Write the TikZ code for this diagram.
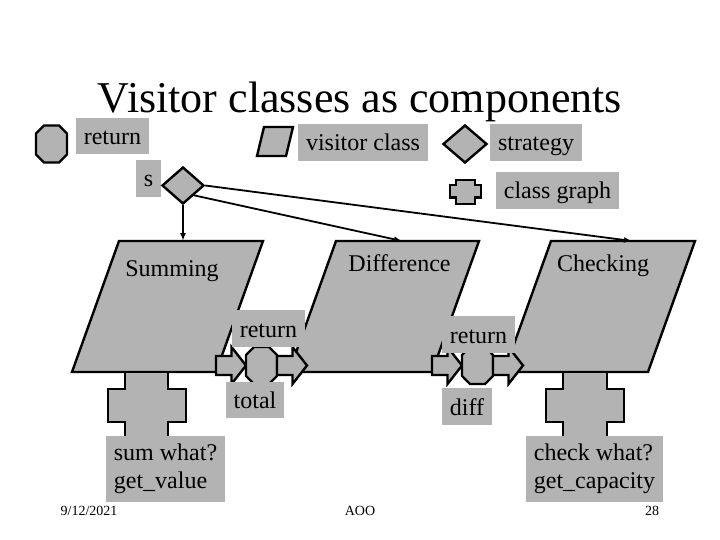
\documentclass[tikz,border=0pt]{standalone}
\usepackage{fontspec}
\setmainfont{Liberation Serif}
\usetikzlibrary{shapes.geometric,arrows.meta}
\definecolor{boxgray}{RGB}{179,179,179}
\begin{document}
\begin{tikzpicture}[x=1pt,y=-1pt,
  shp/.style={fill=boxgray,draw=black,line width=2.4pt},
  lbl/.style={fill=boxgray,inner sep=0pt,font=\fontsize{24}{27.6}\selectfont,text height=21pt,text depth=4pt},
  mlbl/.style={fill=boxgray,inner sep=0pt,align=left,font=\fontsize{24}{27.5}\selectfont},
  ptxt/.style={anchor=base,inner sep=0pt,font=\fontsize{24}{28}\selectfont},
  foot/.style={anchor=base,inner sep=0pt,font=\fontsize{14}{16}\selectfont},
  dia/.style={shp,diamond,inner sep=0pt},
  conn/.style={line width=1.8pt,-{Latex[length=8pt,width=6pt]}},
  octo/.pic={\path[shp] (-15.5,-10.5)--(-7.5,-18.5)--(7.5,-18.5)--(15.5,-10.5)--(15.5,10.5)--(7.5,18.5)--(-7.5,18.5)--(-15.5,10.5)--cycle;},
  barrow/.pic={\path[shp] (0,-9.5)--(15.5,-9.5)--(15.5,-18.5)--(30,0)--(15.5,18.5)--(15.5,9.5)--(0,9.5)--cycle;}
]
\useasboundingbox (0,0) rectangle (720,540);

% title
\node[anchor=base,inner sep=0pt,font=\fontsize{44}{50}\selectfont] (title) at (360,113) {Visitor classes as components};

% legend
\pic at (51.5,144) {octo};
\node[lbl,minimum width=73pt,minimum height=36pt] (retleg) at (112.5,136) {return};
\path[shp] (264,127)--(293,127)--(286,156)--(257,156)--cycle;
\node[lbl,minimum width=130pt,minimum height=37pt] (visleg) at (363,142.5) {visitor class};
\node[dia,minimum width=44pt,minimum height=38pt] (strdia) at (465,144) {};
\node[lbl,minimum width=92pt,minimum height=37pt] (strleg) at (536,142.5) {strategy};
\path[shp] (456,180)--(475,180)--(475,185)--(481,185)--(481,197.5)--(475,197.5)--(475,204)--(456,204)--(456,197.5)--(450,197.5)--(450,185)--(456,185)--cycle;
\node[lbl,minimum width=123pt,minimum height=37pt] (cgleg) at (557.5,190.5) {class graph};

% strategy s
\node[lbl,minimum width=25pt,minimum height=37pt] (slbl) at (148.5,178.5) {s};
\node[dia,minimum width=42pt,minimum height=37pt] (s) at (183,185.5) {};

% visitor classes
\path[shp] (119,241)--(263,241)--(216,372)--(72,372)--cycle;
\path[shp] (336,241)--(479,241)--(432,372)--(289,372)--cycle;
\path[shp] (551,241)--(695,241)--(648,372)--(504,372)--cycle;

% crosses
\path[shp] (125,372)--(168,372)--(168,389)--(186,389)--(186,422)--(168,422)--(168,440)--(125,440)--(125,422)--(108,422)--(108,389)--(125,389)--cycle;
\path[shp] (563,372)--(607,372)--(607,389)--(624,389)--(624,422)--(607,422)--(607,440)--(563,440)--(563,422)--(546,422)--(546,389)--(563,389)--cycle;

% connectors
\coordinate (sumtop) at (183,241);
\coordinate (difftop) at (402,241);
\coordinate (chktop) at (632,241);
\draw[conn] (s.south) -- (sumtop);
\draw[conn] (s.south east) -- (difftop);
\draw[conn] (s.east) -- (chktop);

% block arrows and return octagons
\pic at (216,365.5) {barrow};
\pic at (261.5,365.5) {octo};
\pic at (277,365.5) {barrow};
\pic at (432,365.5) {barrow};
\pic at (477.5,365.5) {octo};
\pic at (493,365.5) {barrow};

% labels
\node[lbl,minimum width=73pt,minimum height=37pt] (ret1) at (268.5,328.5) {return};
\node[lbl,minimum width=58pt,minimum height=36pt] (total) at (255,400) {total};
\node[lbl,minimum width=73pt,minimum height=37pt] (ret2) at (478.5,334.5) {return};
\node[lbl,minimum width=50pt,minimum height=37pt] (diff) at (467,406.5) {diff};
\node[mlbl,minimum width=119pt,minimum height=66pt] (sumq) at (165.5,469) {sum what?\\get\_value};
\node[mlbl,minimum width=137pt,minimum height=66pt] (chkq) at (594.5,469) {check what?\\get\_capacity};

% class names
\node[ptxt] (summing) at (172,276.7) {Summing};
\node[ptxt] (difference) at (399.5,271.7) {Difference};
\node[ptxt] (checking) at (603,271.7) {Checking};

% footer
\node[foot] (date) at (89,515) {9/12/2021};
\node[foot] (aoo) at (360,515) {AOO};
\node[foot] (page) at (652,515) {28};
\end{tikzpicture}
\end{document}
